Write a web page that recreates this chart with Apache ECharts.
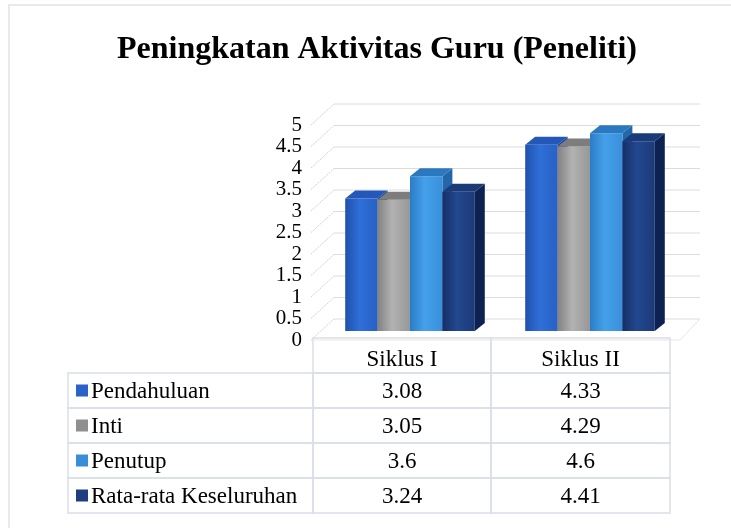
<!DOCTYPE html>
<html>
<head>
<meta charset="utf-8">
<script src="https://cdn.jsdelivr.net/npm/echarts@6/dist/echarts.min.js"></script>
<style>
html,body{margin:0;padding:0;background:#fff;}
#chart{width:731px;height:528px;}
</style>
</head>
<body>
<div id="chart"></div>
<script>
// ---- data ----
const titleText = 'Peningkatan Aktivitas Guru (Peneliti)';
const categories = ['Siklus I', 'Siklus II'];
const seriesNames = ['Pendahuluan', 'Inti', 'Penutup', 'Rata-rata Keseluruhan'];
const pendahuluan = [3.08, 4.33];
const inti = [3.05, 4.29];
const penutup = [3.6, 4.6];
const rataRata = [3.24, 4.41];
const yTicks = [0, 0.5, 1, 1.5, 2, 2.5, 3, 3.5, 4, 4.5, 5];

const seriesValues = [pendahuluan, inti, penutup, rataRata];

// ---- styles ----
const palettes = [
  { front: ['#1f51ad', '#2f6fd8', '#2761c4'], top: '#2458b8', side: '#1a438f', legend: '#2a62c8' },
  { front: ['#828282', '#b2b2b2', '#979797'], top: '#7d7d7d', side: '#6a6a6a', legend: '#8f8f8f' },
  { front: ['#2b7cc6', '#45a0ea', '#3a8fdb'], top: '#2a78c0', side: '#2467a8', legend: '#3a8ed8' },
  { front: ['#152f66', '#23488f', '#1b3a78'], top: '#1a3a7a', side: '#0e2252', legend: '#1e3e80' }
];
const DX = 10, DY = 8;          // bar depth
const BACK = [14, -12];         // back wall offset
const FRONT = [-9, 9];          // front edge offset
const SERIF = 'Liberation Serif';

function barSeries(idx) {
  const pal = palettes[idx];
  return {
    type: 'custom',
    name: seriesNames[idx],
    coordinateSystem: 'cartesian2d',
    xAxisIndex: 0, yAxisIndex: 0,
    data: seriesValues[idx].map((v, i) => [i, v]),
    z: 3,
    renderItem: function (params, api) {
      const ci = api.value(0), v = api.value(1);
      const base = api.coord([ci, 0]);
      const top = api.coord([ci, v]);
      const band = api.size([1, 0])[0];
      const bw = band * 0.18;
      const gw = bw * 4;
      const x0 = base[0] - gw / 2 + idx * bw, x1 = x0 + bw;
      const yb = base[1], yt = top[1];
      return {
        type: 'group',
        children: [
          { type: 'polygon', shape: { points: [[x1, yt], [x1 + DX, yt - DY], [x1 + DX, yb - DY], [x1, yb]] },
            style: { fill: pal.side } },
          { type: 'rect', shape: { x: x0, y: yt, width: bw, height: yb - yt },
            style: { fill: { type: 'linear', x: 0, y: 0, x2: 1, y2: 0,
              colorStops: [{ offset: 0, color: pal.front[0] }, { offset: 0.45, color: pal.front[1] }, { offset: 1, color: pal.front[2] }] } } },
          { type: 'polygon', shape: { points: [[x0, yt], [x1, yt], [x1 + DX, yt - DY], [x0 + DX, yt - DY]] },
            style: { fill: pal.top } }
        ]
      };
    }
  };
}

const wallSeries = {
  type: 'custom',
  coordinateSystem: 'cartesian2d',
  xAxisIndex: 0, yAxisIndex: 0,
  data: yTicks.map(v => [0, v]),
  z: 1,
  silent: true,
  renderItem: function (params, api) {
    const cs = params.coordSys;
    const y = api.coord([0, api.value(1)])[1];
    const children = [
      { type: 'line', shape: { x1: cs.x + BACK[0], y1: y + BACK[1], x2: cs.x + cs.width + 20, y2: y + BACK[1] },
        style: { stroke: '#dcdcdc', lineWidth: 1 } },
      { type: 'line', shape: { x1: cs.x + FRONT[0], y1: y + FRONT[1], x2: cs.x + BACK[0], y2: y + BACK[1] },
        style: { stroke: '#d2d2d2', lineWidth: 1, lineDash: [2, 1] } }
    ];
    if (api.value(1) === 0) {
      children.push({ type: 'line', shape: { x1: cs.x + FRONT[0], y1: y + FRONT[1], x2: cs.x + cs.width, y2: y + FRONT[1] },
        style: { stroke: '#e6e6e6', lineWidth: 1 } });
      children.push({ type: 'line', shape: { x1: cs.x + cs.width, y1: y + FRONT[1], x2: cs.x + cs.width + 20, y2: y + BACK[1] },
        style: { stroke: '#e6e6e6', lineWidth: 1 } });
    }
    return { type: 'group', children: children };
  }
};

// ---- table (built from the data arrays) ----
const T = { left: 68, c1: 313, c2: 491, right: 670, top: 338, rowH: 35 };
const border = '#dadee7';
const FONT = '23px "' + SERIF + '"';
const tableEls = [];
const colX = [[T.c1, T.c2], [T.c2, T.right]];
categories.forEach((c, ci) => {
  const [a, b] = colX[ci];
  tableEls.push({ type: 'rect', shape: { x: a, y: T.top, width: b - a, height: T.rowH },
    style: { fill: 'none', stroke: border, lineWidth: 1.5 } });
  tableEls.push({ type: 'text', x: (a + b) / 2, y: T.top + T.rowH / 2 + 4,
    style: { text: c, font: FONT, fill: '#000', align: 'center', verticalAlign: 'middle' } });
});
seriesNames.forEach((name, r) => {
  const y0 = T.top + T.rowH * (r + 1);
  tableEls.push({ type: 'rect', shape: { x: T.left, y: y0, width: T.c1 - T.left, height: T.rowH },
    style: { fill: 'none', stroke: border, lineWidth: 1.5 } });
  tableEls.push({ type: 'rect', shape: { x: T.left + 8, y: y0 + T.rowH / 2 - 6, width: 12, height: 12 },
    style: { fill: palettes[r].legend } });
  tableEls.push({ type: 'text', x: T.left + 23, y: y0 + T.rowH / 2 + 1,
    style: { text: name, font: FONT, fill: '#000', align: 'left', verticalAlign: 'middle' } });
  categories.forEach((c, ci) => {
    const [a, b] = colX[ci];
    tableEls.push({ type: 'rect', shape: { x: a, y: y0, width: b - a, height: T.rowH },
      style: { fill: 'none', stroke: border, lineWidth: 1.5 } });
    tableEls.push({ type: 'text', x: (a + b) / 2, y: y0 + T.rowH / 2 + 1,
      style: { text: String(seriesValues[r][ci]), font: FONT, fill: '#000', align: 'center', verticalAlign: 'middle' } });
  });
});

const chart = echarts.init(document.getElementById('chart'), null, { renderer: 'canvas' });
chart.setOption({
  backgroundColor: '#ffffff',
  animation: false,
  title: {
    text: titleText,
    left: 112, top: 29,
    textStyle: { fontFamily: SERIF, fontSize: 32, fontWeight: 'bold', color: '#000' }
  },
  grid: [
    { left: 320, right: 51, top: 116, height: 215 },   // bar plane
    { left: 311, right: 60, top: 125, height: 215 }    // front edge plane (axis labels)
  ],
  xAxis: [
    { type: 'category', data: categories, show: false, gridIndex: 0 },
    { type: 'category', data: categories, show: false, gridIndex: 1 }
  ],
  yAxis: [
    { type: 'value', gridIndex: 0, min: yTicks[0], max: yTicks[yTicks.length - 1], interval: yTicks[1] - yTicks[0],
      show: false, splitLine: { show: false } },
    { type: 'value', gridIndex: 1, min: yTicks[0], max: yTicks[yTicks.length - 1], interval: yTicks[1] - yTicks[0],
      axisLine: { show: false }, axisTick: { show: false }, splitLine: { show: false },
      axisLabel: { margin: 9, fontFamily: SERIF, fontSize: 21, color: '#000' } }
  ],
  graphic: [
    { type: 'rect', shape: { x: 9, y: 5, width: 740, height: 540 }, style: { fill: 'none', stroke: '#e1e4ea', lineWidth: 1.5 }, z: 0 },
    { type: 'group', children: tableEls }
  ],
  series: [wallSeries, barSeries(0), barSeries(1), barSeries(2), barSeries(3)]
});
</script>
</body>
</html>
